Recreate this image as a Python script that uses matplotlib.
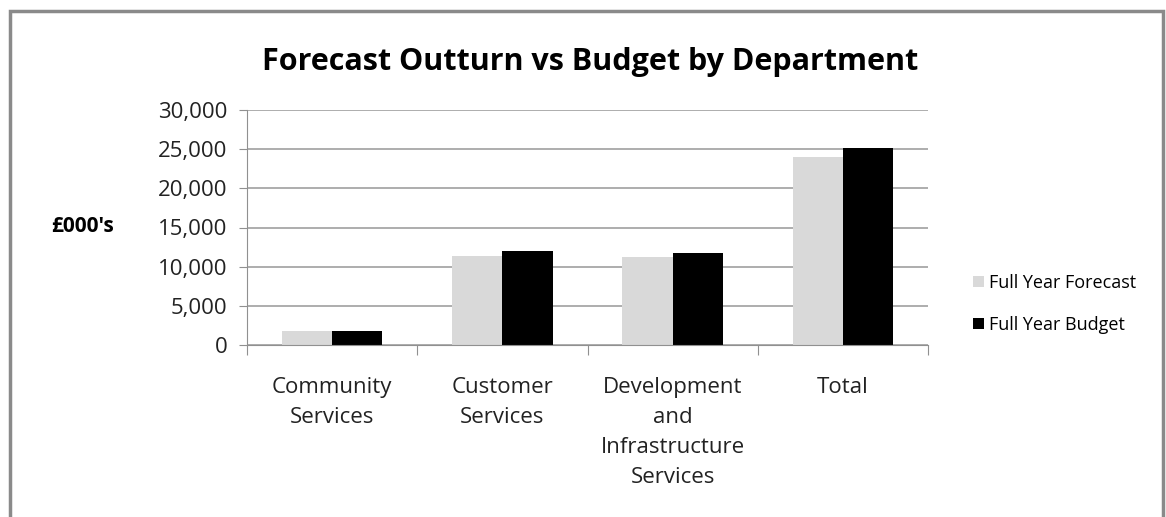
import matplotlib
matplotlib.use('Agg')
import matplotlib.pyplot as plt
import numpy as np
from matplotlib.patches import Rectangle

departments = ['Community\nServices', 'Customer\nServices',
               'Development\nand\nInfrastructure\nServices', 'Total']
forecast = [1800, 11400, 11250, 24000]
budget = [1800, 12050, 11700, 25100]
series_names = ['Full Year Forecast', 'Full Year Budget']
y_ticks = [0, 5000, 10000, 15000, 20000, 25000, 30000]

plt.rcParams['font.family'] = ['Open Sans', 'DejaVu Sans']

fig = plt.figure(figsize=(11.66, 5.17), dpi=100)
ax = fig.add_axes([247 / 1166, 1 - 345 / 517, 681 / 1166, 235 / 517])

x = np.arange(len(departments))
w = 0.295
ax.bar(x - w / 2, forecast, w, color='#d9d9d9', label=series_names[0])
ax.bar(x + w / 2, budget, w, color='black', label=series_names[1])

ax.set_xlim(-0.5, len(departments) - 0.5)
ax.set_ylim(0, 30000)
ax.set_yticks(y_ticks)
ax.set_yticklabels([f'{v:,}' for v in y_ticks], fontsize=16, color='#222222')
ax.yaxis.grid(True, color='#a0a0a0', lw=1.2)
ax.set_axisbelow(True)

ax.set_xticks(np.arange(len(departments) + 1) - 0.5)
ax.set_xticklabels([])
ax.tick_params(axis='x', length=7, color='#909090', direction='out')
ax.tick_params(axis='y', length=6, color='#909090', direction='out', pad=8)
for i, name in enumerate(departments):
    ax.text(i, -4100, name, ha='center', va='top', fontsize=16,
            color='#222222', linespacing=1.55)

for side in ['top', 'right']:
    ax.spines[side].set_visible(False)
for side in ['left', 'bottom']:
    ax.spines[side].set_color('#909090')

fig.text(590 / 1166, 1 - 62 / 517, 'Forecast Outturn vs Budget by Department',
         ha='center', va='center', fontsize=22, fontweight='bold')
fig.text(83 / 1166, 1 - 226 / 517, "£000's", ha='center', va='center',
         fontsize=15, fontweight='bold')

ax.legend(loc='center left', bbox_to_anchor=(1.055, 0.175), frameon=False,
          fontsize=13, handlelength=0.6, handleheight=0.6,
          handletextpad=0.3, labelspacing=1.35, borderaxespad=0)

fig.patches.append(Rectangle((10 / 1166, -0.1), 1153 / 1166, 1 - 11 / 517 + 0.1,
                             transform=fig.transFigure, fill=False,
                             ec='#8a8a8a', lw=2.5))

fig.savefig('out.png', dpi=100)
